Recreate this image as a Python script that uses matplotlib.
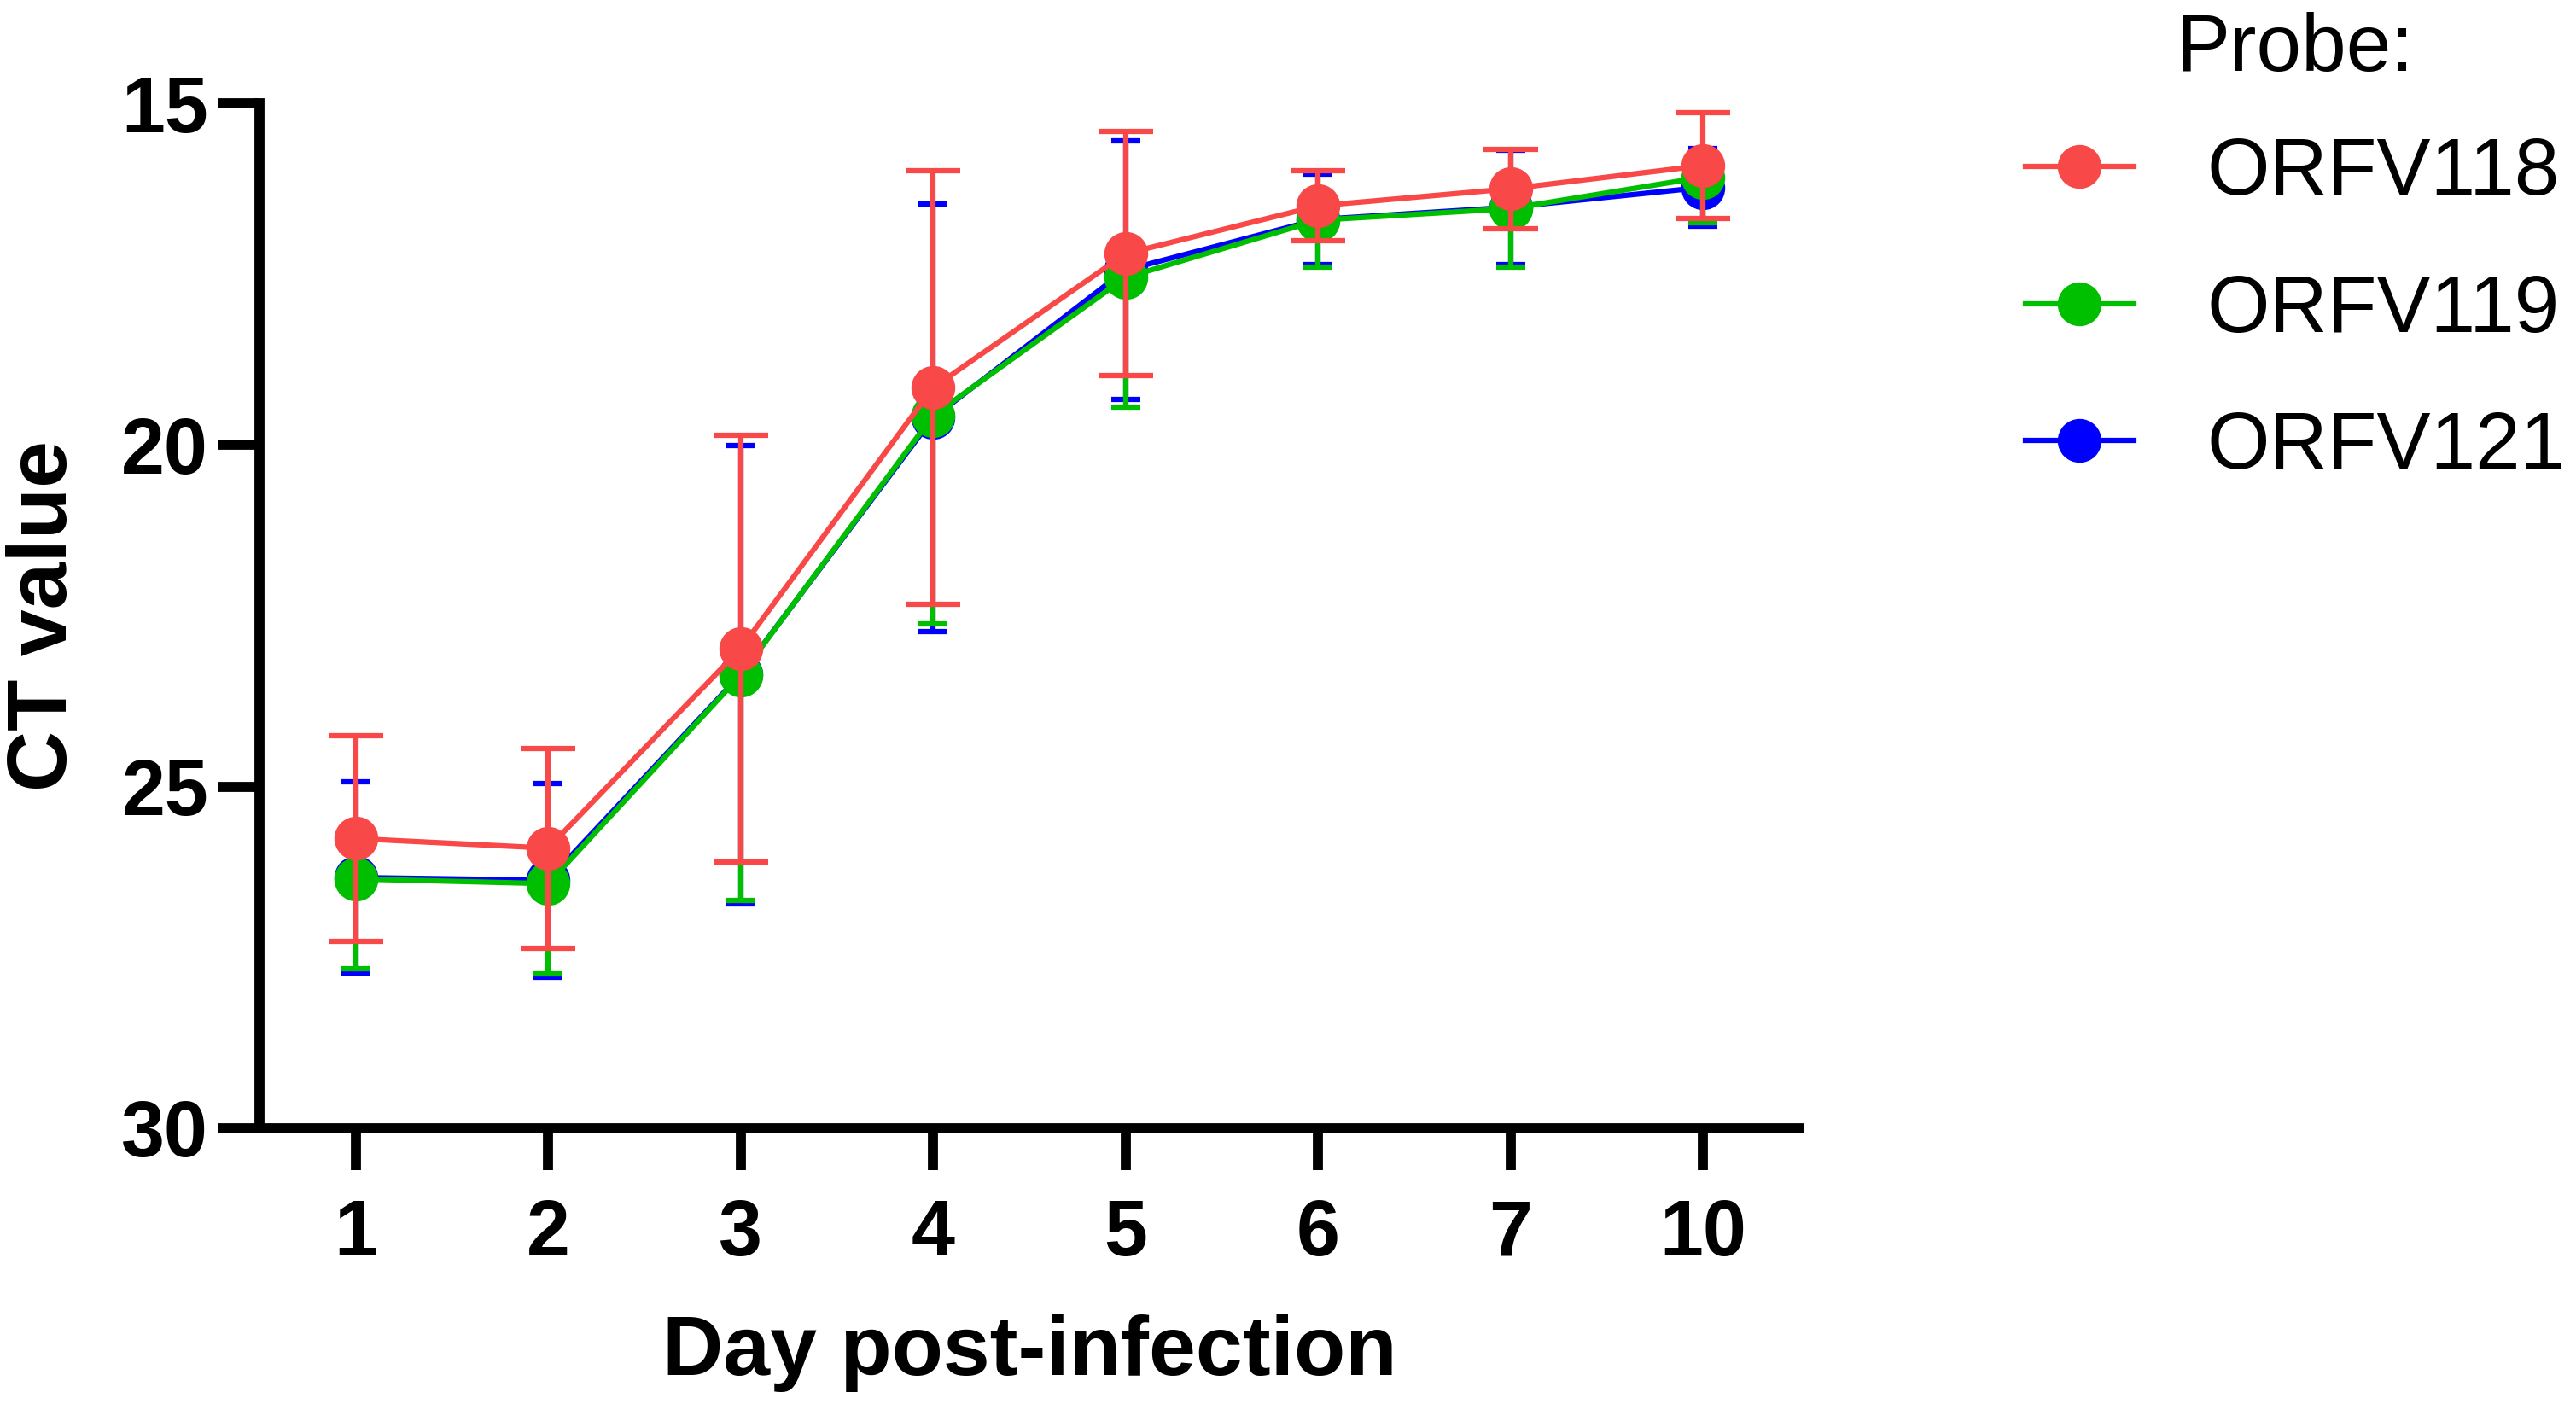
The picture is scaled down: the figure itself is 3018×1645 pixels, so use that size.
import numpy as np
import matplotlib.pyplot as plt
from matplotlib.lines import Line2D

plt.rcParams['font.family'] = ['Liberation Sans', 'DejaVu Sans']

days = ["1", "2", "3", "4", "5", "6", "7", "10"]

# CT means and SD per probe
orfv118_mean = [25.76, 25.90, 22.98, 19.16, 17.20, 16.50, 16.25, 15.91]
orfv118_sd = [1.50, 1.46, 3.12, 3.17, 1.79, 0.51, 0.58, 0.77]
orfv119_mean = [26.35, 26.42, 23.37, 19.57, 17.55, 16.71, 16.54, 16.08]
orfv119_sd = [1.32, 1.32, 3.29, 3.05, 1.90, 0.69, 0.86, 0.67]
orfv121_mean = [26.33, 26.37, 23.36, 19.60, 17.44, 16.70, 16.52, 16.23]
orfv121_sd = [1.40, 1.42, 3.35, 3.13, 1.89, 0.66, 0.84, 0.57]

red = "#F84848"
green = "#00BE00"
blue = "#0000FF"

fig = plt.figure(figsize=(30.18, 16.45), dpi=100)
ax = fig.add_axes([0.1007, 0.1964, 0.5978, 0.7300])
x = np.arange(len(days))

lw = 4.5
ms = 36

# blue first, green over it, red on top
ax.errorbar(x, orfv121_mean, yerr=orfv121_sd, color=blue, marker="o", ms=ms,
            lw=lw, elinewidth=lw, capsize=12, capthick=lw, zorder=3)
ax.errorbar(x, orfv119_mean, yerr=[np.zeros(len(x)), orfv119_sd], color=green,
            marker="o", ms=ms, lw=lw, elinewidth=lw, capsize=12, capthick=lw, zorder=4)
ax.errorbar(x, orfv118_mean, yerr=orfv118_sd, color=red, marker="o", ms=ms,
            lw=lw, elinewidth=lw, capsize=23, capthick=lw, zorder=5)

ax.set_ylim(30, 15)
ax.set_xlim(-0.5, 7.5)
ax.set_yticks([15, 20, 25, 30])
ax.set_xticks(x)
ax.set_xticklabels(days)

for s in ["top", "right"]:
    ax.spines[s].set_visible(False)
for s in ["left", "bottom"]:
    ax.spines[s].set_linewidth(8.5)

ax.tick_params(axis="y", length=35, width=8.5, pad=8, labelsize=66)
ax.tick_params(axis="x", length=35, width=8.5, pad=24, labelsize=66)
for lab in ax.get_xticklabels() + ax.get_yticklabels():
    lab.set_fontweight("bold")

ax.set_ylabel("CT value", fontsize=71, fontweight="bold", labelpad=32)
ax.set_xlabel("Day post-infection", fontsize=71, fontweight="bold", labelpad=36)

handles = [Line2D([], [], color=c, lw=lw, marker="o", ms=ms) for c in (red, green, blue)]
leg = fig.legend(handles, ["ORFV118", "ORFV119", "ORFV121"], title="Probe:",
                 loc="upper left", bbox_to_anchor=(0.758, 1.043), frameon=False,
                 fontsize=68, title_fontsize=68, handlelength=1.35,
                 handletextpad=0.9, labelspacing=0.76)
leg._legend_box.sep = 40

fig.savefig("out.png", dpi=100)
